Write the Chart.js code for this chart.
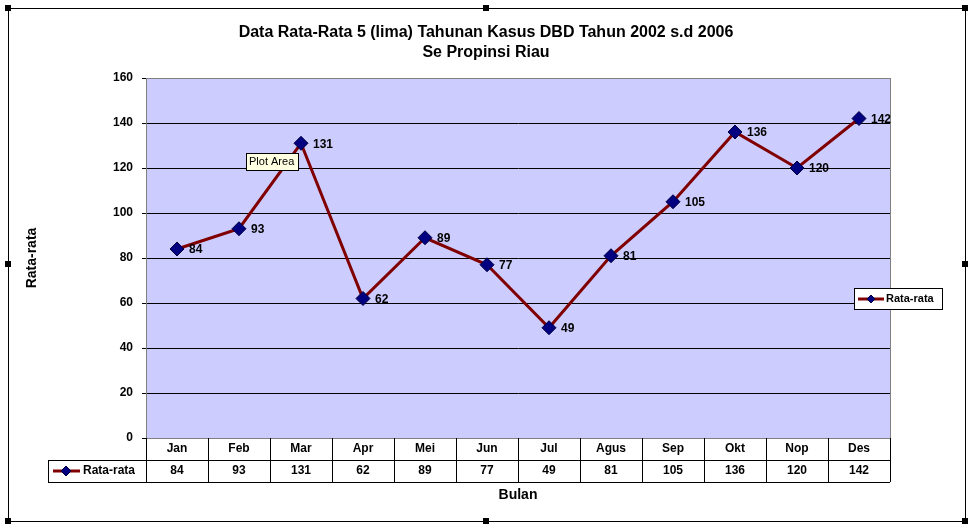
<!DOCTYPE html>
<html>
<head>
<meta charset="utf-8">
<script src="https://cdn.jsdelivr.net/npm/chart.js@4"></script>
<style>
  html, body { margin: 0; padding: 0; background: #fff; }
  #wrap { width: 973px; height: 529px; }
</style>
</head>
<body>
<div id="wrap"><canvas id="chart" width="973" height="529"></canvas></div>
<script>
'use strict';

const months = ['Jan', 'Feb', 'Mar', 'Apr', 'Mei', 'Jun', 'Jul', 'Agus', 'Sep', 'Okt', 'Nop', 'Des'];
const rataRata = [84, 93, 131, 62, 89, 77, 49, 81, 105, 136, 120, 142];
const yTicks = [0, 20, 40, 60, 80, 100, 120, 140, 160];

const FONT = 'Liberation Sans, Arial, sans-serif';

function diamond(ctx, x, y, r) {
    ctx.beginPath();
    ctx.moveTo(x, y - r);
    ctx.lineTo(x + r, y);
    ctx.lineTo(x, y + r);
    ctx.lineTo(x - r, y);
    ctx.closePath();
    ctx.fillStyle = '#000080';
    ctx.fill();
    ctx.strokeStyle = '#000040';
    ctx.lineWidth = 1;
    ctx.stroke();
}

const excelLook = {
    id: 'excelLook',
    beforeDraw(chart) {
        const ctx = chart.ctx;
        const a = chart.chartArea;
        ctx.save();
        ctx.fillStyle = '#fff';
        ctx.fillRect(0, 0, chart.width, chart.height);
        ctx.fillStyle = '#ccccff';
        ctx.fillRect(a.left, a.top, a.right - a.left, a.bottom - a.top);
        ctx.restore();
    },
    afterDraw(chart) {
        const ctx = chart.ctx;
        const a = chart.chartArea;
        const x = chart.scales.x;
        ctx.save();

        // outer frame and handles
        ctx.strokeStyle = '#000';
        ctx.lineWidth = 1;
        ctx.strokeRect(8.5, 8.5, 957, 513);
        ctx.fillStyle = '#000';
        [[8, 8], [486, 8], [965, 8], [8, 264], [965, 264], [8, 521], [486, 521], [965, 521]].forEach(p => {
            ctx.fillRect(p[0] - 3, p[1] - 3, 6, 6);
        });

        // plot area border
        ctx.strokeStyle = '#808080';
        ctx.strokeRect(a.left + 0.5, a.top + 0.5, a.right - a.left, a.bottom - a.top);

        // title
        ctx.fillStyle = '#000';
        ctx.textAlign = 'center';
        ctx.textBaseline = 'middle';
        ctx.font = 'bold 16px ' + FONT;
        ctx.fillText('Data Rata-Rata 5 (lima) Tahunan Kasus DBD Tahun 2002 s.d 2006', 486, 33);
        ctx.fillText('Se Propinsi Riau', 486, 53);

        // data labels
        ctx.font = 'bold 12px ' + FONT;
        ctx.textAlign = 'left';
        const meta = chart.getDatasetMeta(0);
        meta.data.forEach((pt, i) => {
            ctx.fillText(String(rataRata[i]), pt.x + 12, pt.y + 1);
        });

        // data table
        const top = a.bottom, mid = a.bottom + 22, bot = a.bottom + 44;
        const colW = (a.right - a.left) / months.length;
        ctx.strokeStyle = '#000';
        ctx.beginPath();
        ctx.moveTo(48, mid + 0.5); ctx.lineTo(a.right, mid + 0.5);
        ctx.moveTo(48, bot + 0.5); ctx.lineTo(a.right, bot + 0.5);
        ctx.moveTo(48.5, mid); ctx.lineTo(48.5, bot);
        for (let i = 0; i <= months.length; i++) {
            const lx = Math.round(a.left + i * colW) + 0.5;
            ctx.moveTo(lx, top); ctx.lineTo(lx, bot);
        }
        ctx.stroke();
        ctx.textAlign = 'center';
        ctx.font = 'bold 12px ' + FONT;
        months.forEach((m, i) => {
            const cx = x.getPixelForValue(i);
            ctx.fillText(m, cx, top + 11);
            ctx.fillText(String(rataRata[i]), cx, mid + 11);
        });
        // legend key in table
        ctx.strokeStyle = '#800000';
        ctx.lineWidth = 3;
        ctx.beginPath();
        ctx.moveTo(53, mid + 11); ctx.lineTo(80, mid + 11);
        ctx.stroke();
        diamond(ctx, 66, mid + 11, 5);
        ctx.fillStyle = '#000';
        ctx.textAlign = 'left';
        ctx.fillText('Rata-rata', 83, mid + 11);

        // x axis title
        ctx.textAlign = 'center';
        ctx.font = 'bold 14px ' + FONT;
        ctx.fillText('Bulan', 518, 495);

        // legend box
        ctx.lineWidth = 1;
        ctx.strokeStyle = '#000';
        ctx.fillStyle = '#fff';
        ctx.fillRect(854, 288, 88, 21);
        ctx.strokeRect(854.5, 288.5, 88, 21);
        ctx.strokeStyle = '#800000';
        ctx.lineWidth = 3;
        ctx.beginPath();
        ctx.moveTo(858, 299); ctx.lineTo(884, 299);
        ctx.stroke();
        diamond(ctx, 871, 299, 4);
        ctx.fillStyle = '#000';
        ctx.textAlign = 'left';
        ctx.font = 'bold 11px ' + FONT;
        ctx.fillText('Rata-rata', 886, 299);

        // "Plot Area" tip
        ctx.fillStyle = '#ffffe1';
        ctx.fillRect(246, 153, 52, 17);
        ctx.strokeStyle = '#000';
        ctx.lineWidth = 1;
        ctx.strokeRect(246.5, 153.5, 52, 17);
        ctx.fillStyle = '#000';
        ctx.font = '11px ' + FONT;
        ctx.fillText('Plot Area', 249, 162);

        ctx.restore();
    }
};

new Chart(document.getElementById('chart').getContext('2d'), {
    type: 'line',
    data: {
        labels: months,
        datasets: [{
            label: 'Rata-rata',
            data: rataRata,
            borderColor: '#800000',
            borderWidth: 3,
            tension: 0,
            pointStyle: 'rectRot',
            pointRadius: 7,
            pointBackgroundColor: '#000080',
            pointBorderColor: '#000040',
            pointBorderWidth: 1
        }]
    },
    options: {
        responsive: false,
        animation: false,
        layout: { padding: { left: 20, top: 78, right: 83, bottom: 91 } },
        plugins: { legend: { display: false }, tooltip: { enabled: false }, title: { display: false } },
        scales: {
            x: {
                offset: true,
                display: false
            },
            y: {
                min: 0,
                max: 160,
                afterBuildTicks: scale => { scale.ticks = yTicks.map(v => ({ value: v })); },
                afterFit: scale => { scale.width = 126; },
                grid: { color: '#000', lineWidth: 1, drawTicks: true, tickLength: 4, tickColor: '#000' },
                border: { color: '#000' },
                ticks: { color: '#000', font: { family: FONT, size: 12, weight: 'bold' }, padding: 9 },
                title: { display: true, text: 'Rata-rata', color: '#000', font: { family: FONT, size: 14, weight: 'bold' }, padding: { bottom: 50 } }
            }
        }
    },
    plugins: [excelLook]
});
</script>
</body>
</html>
